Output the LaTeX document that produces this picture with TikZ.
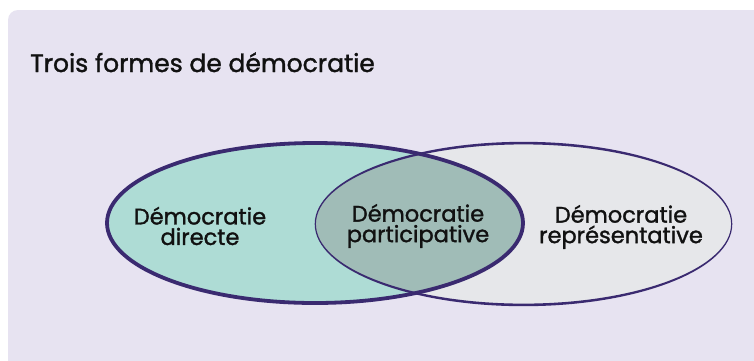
\documentclass[tikz,border=0pt]{standalone}
\usepackage{fontspec}
\setmainfont{Poppins}[FakeBold=1.4]
\definecolor{bglav}{HTML}{E7E3F1}
\definecolor{leftfill}{HTML}{AEDCD5}
\definecolor{rightfill}{HTML}{E6E7EA}
\definecolor{lensfill}{HTML}{A0BCB7}
\definecolor{outline}{HTML}{3A2A70}
\definecolor{ink}{HTML}{111111}
\tikzset{
  label text/.style={align=center, text=ink, inner sep=0pt,
    font=\fontsize{22.5}{20.5}\selectfont},
  title text/.style={anchor=base west, text=ink, inner sep=0pt,
    font=\fontsize{25}{30}\selectfont},
}
\begin{document}
\begin{tikzpicture}[x=1pt,y=-1pt]
  \useasboundingbox (0,0) rectangle (754,360);
  \clip (0,0) rectangle (754,360);
  \fill[white] (0,0) rectangle (754,360);
  \fill[bglav, rounded corners=10pt] (8,10) rectangle (775,380);
  % fills
  \fill[leftfill] (315,223) ellipse [x radius=208pt, y radius=80pt];
  \fill[rightfill] (523.5,224) ellipse [x radius=208pt, y radius=80.5pt];
  \begin{scope}
    \clip (315,223) ellipse [x radius=208pt, y radius=80pt];
    \fill[lensfill] (523.5,224) ellipse [x radius=208pt, y radius=80.5pt];
  \end{scope}
  % right ellipse outline, thick top/bottom, thin at the ends
  \fill[outline, even odd rule]
    (523.5,224) ellipse [x radius=208.8pt, y radius=82.2pt]
    (523.5,224) ellipse [x radius=207.6pt, y radius=79.6pt];
  % left ellipse outline
  \draw[outline, line width=3.8pt] (315,223) ellipse [x radius=208pt, y radius=80pt];
  % texts
  \node[title text] (title) at (30,72) {Trois formes de démocratie};
  \node[label text] (directe) at (200,226) {Démocratie\\directe};
  \node[label text] (participative) at (418,226) {Démocratie\\participative};
  \node[label text] (representative) at (621,227) {Démocratie\\représentative};
\end{tikzpicture}
\end{document}
